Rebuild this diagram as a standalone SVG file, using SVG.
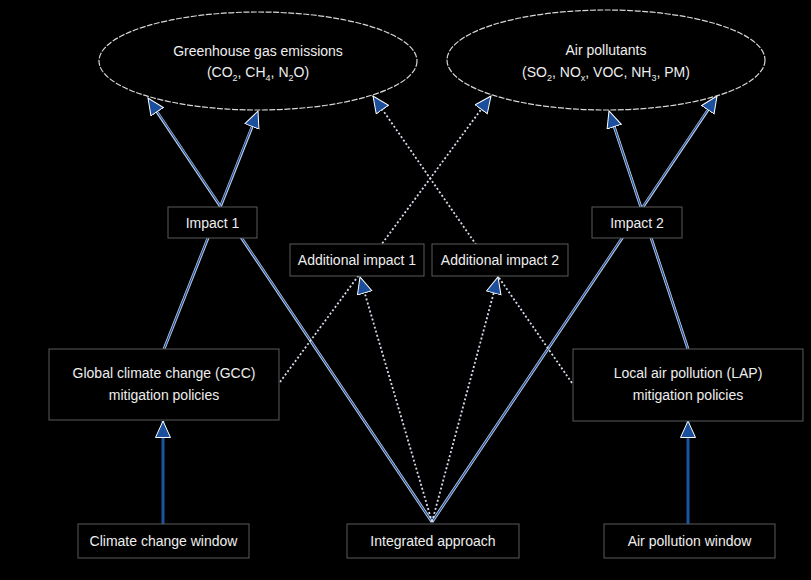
<svg xmlns="http://www.w3.org/2000/svg" width="811" height="580" viewBox="0 0 811 580">
<defs>
<style>
.bg{fill:#000}
.box{fill:#000;stroke:#5a5a5a;stroke-width:1}
.ell{fill:#000;stroke:#d8d8d8;stroke-width:1.2;stroke-dasharray:6 1.5}
.t{font-family:"Liberation Sans",Arial,sans-serif;font-size:14px;fill:#eeeeee;text-anchor:middle}
.case{fill:none;stroke:#c9d2e6;stroke-width:2.8}
.solid{fill:none;stroke:#1d4f9c;stroke-width:1.2;marker-end:url(#ah)}
.thick{fill:none;stroke:#1b55a0;stroke-width:3;marker-end:url(#ah)}
.dot{fill:none;stroke:#d4dbea;stroke-width:1.8;stroke-dasharray:2 2.2;marker-end:url(#ah)}
</style>
<marker id="ah" markerUnits="userSpaceOnUse" markerWidth="20" markerHeight="18" refX="17" refY="8" orient="auto">
<path d="M0.5,0.5 L17,8 L0.5,15.5 z" fill="#1b4f9c" stroke="#ffffff" stroke-width="1"/>
</marker>
</defs>
<rect class="bg" x="0" y="0" width="811" height="580"/>
<g id="connectors">
<line class="case" x1="164" y1="349" x2="256" y2="117"/>
<line class="solid" x1="164" y1="349" x2="258" y2="111"/>
<line class="case" x1="432" y1="522" x2="151" y2="103"/>
<line class="solid" x1="432" y1="522" x2="148" y2="98"/>
<line class="case" x1="688" y1="349" x2="611" y2="117"/>
<line class="solid" x1="688" y1="349" x2="609" y2="111"/>
<line class="case" x1="432" y1="522" x2="714" y2="101"/>
<line class="solid" x1="432" y1="522" x2="717" y2="96"/>
<line class="thick" x1="163" y1="524" x2="163" y2="421"/>
<line class="thick" x1="688" y1="524" x2="688" y2="421"/>
<line class="dot" x1="280" y1="382" x2="491" y2="96"/>
<line class="dot" x1="572" y1="383" x2="373" y2="96"/>
<line class="dot" x1="432" y1="522" x2="360" y2="277"/>
<line class="dot" x1="432" y1="522" x2="498" y2="277"/>
</g>
<g id="ghg">
<ellipse class="ell" cx="258" cy="61" rx="159" ry="49"/>
<text class="t" x="258" y="56">Greenhouse gas emissions</text>
<text class="t" x="258" y="77">(CO<tspan font-size="9" dy="4">2</tspan><tspan dy="-4">, CH</tspan><tspan font-size="9" dy="4">4</tspan><tspan dy="-4">, N</tspan><tspan font-size="9" dy="4">2</tspan><tspan dy="-4">O)</tspan></text>
</g>
<g id="airpollutants">
<ellipse class="ell" cx="606" cy="60" rx="159" ry="50"/>
<text class="t" x="606" y="55">Air pollutants</text>
<text class="t" x="606" y="77">(SO<tspan font-size="9" dy="4">2</tspan><tspan dy="-4">, NO</tspan><tspan font-size="9" dy="4">x</tspan><tspan dy="-4">, VOC, NH</tspan><tspan font-size="9" dy="4">3</tspan><tspan dy="-4">, PM)</tspan></text>
</g>
<g id="impact1">
<rect class="box" x="168" y="207" width="89" height="31"/>
<text class="t" x="212.5" y="227.5">Impact 1</text>
</g>
<g id="additional1">
<rect class="box" x="290" y="244" width="134" height="32"/>
<text class="t" x="357" y="265">Additional impact 1</text>
</g>
<g id="additional2">
<rect class="box" x="432" y="244" width="136" height="32"/>
<text class="t" x="500" y="265">Additional impact 2</text>
</g>
<g id="impact2">
<rect class="box" x="592" y="207" width="90" height="31"/>
<text class="t" x="637" y="227.5">Impact 2</text>
</g>
<g id="gcc">
<rect class="box" x="49" y="349" width="230" height="71"/>
<text class="t" x="164" y="378">Global climate change (GCC)</text>
<text class="t" x="164" y="400">mitigation policies</text>
</g>
<g id="lap">
<rect class="box" x="573" y="349" width="230" height="72"/>
<text class="t" x="688" y="378">Local air pollution (LAP)</text>
<text class="t" x="688" y="400">mitigation policies</text>
</g>
<g id="climatewindow">
<rect class="box" x="78" y="524" width="171" height="34"/>
<text class="t" x="163.5" y="546">Climate change window</text>
</g>
<g id="integrated">
<rect class="box" x="347" y="524" width="172" height="34"/>
<text class="t" x="433" y="546">Integrated approach</text>
</g>
<g id="airwindow">
<rect class="box" x="604" y="524" width="171" height="34"/>
<text class="t" x="689.5" y="546">Air pollution window</text>
</g>
</svg>
